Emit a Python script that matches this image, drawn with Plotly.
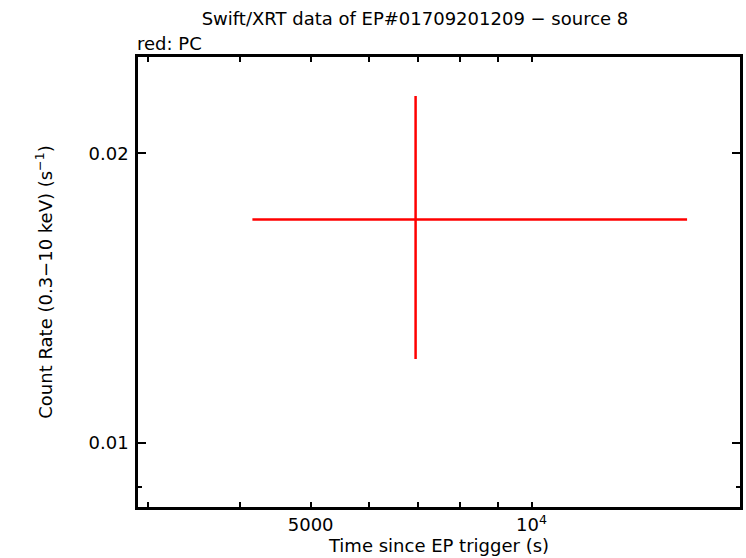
import plotly.graph_objects as go

# Data (PC mode)
time_s = [6950]
time_err_minus = [6950 - 4165]
time_err_plus = [16290 - 6950]
rate = [0.01707]
rate_err_minus = [0.01707 - 0.01222]
rate_err_plus = [0.02293 - 0.01707]

x_tickvals = [5000, 10000]
x_ticktext = ["5000", "10<sup>4</sup>"]
x_minorvals = [3000, 4000, 6000, 7000, 8000, 9000]
y_tickvals = [0.01, 0.02]
y_ticktext = ["0.01", "0.02"]
y_minorvals = [0.009]

FONT = "DejaVu Sans, Liberation Sans, Arial, sans-serif"
FS = 18

fig = go.Figure()
fig.add_trace(go.Scatter(
    x=time_s, y=rate, mode="markers",
    marker=dict(size=1, color="rgba(255,0,0,0)"),
    error_x=dict(type="data", symmetric=False, array=time_err_plus,
                 arrayminus=time_err_minus, color="#ff0000", thickness=2.5, width=0),
    error_y=dict(type="data", symmetric=False, array=rate_err_plus,
                 arrayminus=rate_err_minus, color="#ff0000", thickness=2.5, width=0),
    showlegend=False,
))

fig.update_layout(
    width=746, height=558,
    margin=dict(l=138, r=3, t=57, b=51),
    paper_bgcolor="white", plot_bgcolor="white",
    font=dict(family=FONT, size=FS, color="black"),
    title=dict(text="Swift/XRT data of EP#01709201209 − source 8",
               x=415 / 746, xanchor="center", y=1 - 19 / 558, yanchor="middle",
               font=dict(family=FONT, size=FS, color="black")),
    annotations=[dict(text="red: PC", xref="paper", yref="paper", x=0, y=1,
                      xanchor="left", yanchor="bottom", yshift=1, xshift=-3,
                      showarrow=False,
                      font=dict(family=FONT, size=FS, color="black"))],
)

fig.update_xaxes(
    type="log", range=[3.46372, 4.28405],
    tickvals=x_tickvals, ticktext=x_ticktext,
    ticks="inside", ticklen=5, tickwidth=2, tickcolor="black",
    minor=dict(tickvals=x_minorvals, ticks="inside", ticklen=5, tickwidth=2,
               tickcolor="black", showgrid=False),
    showline=True, linewidth=2.5, linecolor="black", mirror="allticks",
    showgrid=False, zeroline=False,
    title=dict(text="Time since EP trigger (s)", standoff=2,
               font=dict(family=FONT, size=FS)),
    tickfont=dict(family=FONT, size=FS),
)
fig.update_yaxes(
    type="log", range=[-2.0667, -1.599],
    tickvals=y_tickvals, ticktext=y_ticktext,
    ticks="inside", ticklen=8, tickwidth=2, tickcolor="black",
    minor=dict(tickvals=y_minorvals, ticks="inside", ticklen=4, tickwidth=2,
               tickcolor="black", showgrid=False),
    showline=True, linewidth=2.5, linecolor="black", mirror="allticks",
    showgrid=False, zeroline=False, ticklabelstandoff=3,
    title=dict(text="Count Rate (0.3−10 keV) (s<sup>−1</sup>)", standoff=32,
               font=dict(family=FONT, size=FS)),
    tickfont=dict(family=FONT, size=FS),
)

fig.write_html("out.html", config={"displayModeBar": False},
               post_script="document.body.style.margin='0';document.body.style.padding='0';")
